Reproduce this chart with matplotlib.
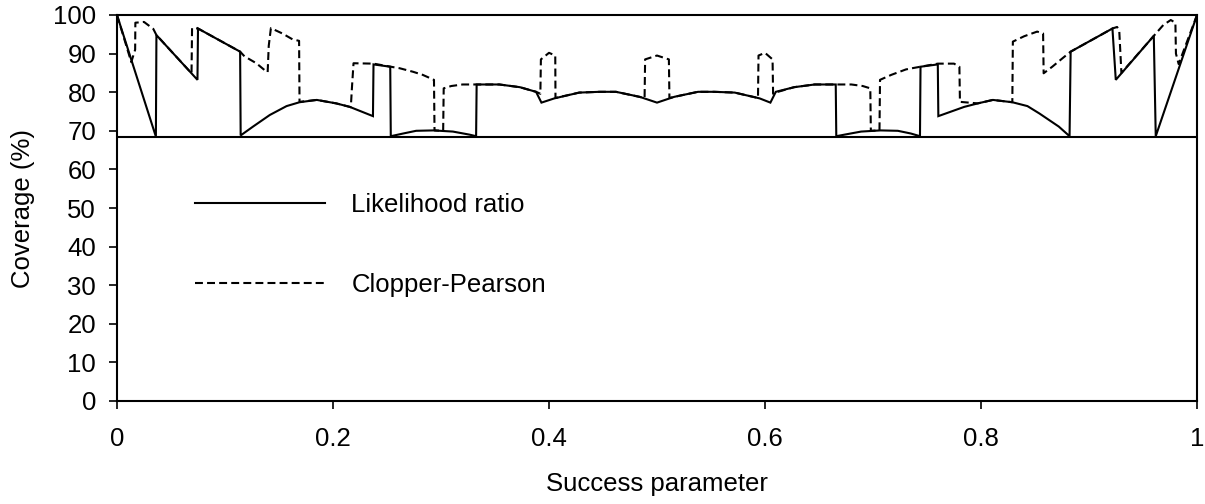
import matplotlib
matplotlib.use("Agg")
import matplotlib.pyplot as plt

plt.rcParams['font.family'] = ['Liberation Sans', 'DejaVu Sans']

# Likelihood ratio coverage (solid)
lr_x = [0.000, 0.036, 0.0365, 0.0745, 0.0750, 0.1140, 0.1145, 0.126, 0.1415, 0.157,
        0.169, 0.185, 0.203, 0.2155, 0.2370, 0.2375, 0.2530, 0.2535, 0.265, 0.277,
        0.293, 0.311, 0.3265, 0.3325, 0.3330, 0.354, 0.373, 0.388, 0.393, 0.405,
        0.428, 0.447, 0.462, 0.484, 0.500,
        0.516, 0.538, 0.553, 0.572, 0.595, 0.605, 0.610, 0.627, 0.646, 0.6655,
        0.6660, 0.6735, 0.689, 0.707, 0.723, 0.735, 0.7435, 0.7440, 0.7600, 0.7605,
        0.7845, 0.797, 0.811, 0.829, 0.843, 0.854, 0.872, 0.882, 0.8830, 0.9217,
        0.9248, 0.9600, 0.9618, 1.000]
lr_y = [100.0, 68.5, 94.8, 83.2, 96.5, 90.5, 68.8, 71.1, 74.1, 76.4,
        77.4, 78.0, 77.1, 76.2, 73.8, 87.2, 86.6, 68.6, 69.3, 70.0,
        70.1, 69.8, 69.0, 68.6, 82.0, 82.0, 81.3, 80.1, 77.3, 78.4,
        79.9, 80.1, 80.1, 78.8, 77.3,
        78.8, 80.1, 80.1, 79.9, 78.4, 77.3, 80.1, 81.3, 82.0, 82.0,
        68.6, 69.0, 69.8, 70.1, 70.0, 69.3, 68.6, 86.6, 87.2, 73.8,
        76.2, 77.1, 78.0, 77.4, 76.4, 74.5, 71.1, 68.6, 90.5, 96.5,
        83.2, 94.6, 68.6, 100.0]

# Clopper-Pearson coverage (dashed)
cp_x = [0.000, 0.0132, 0.0168, 0.0170, 0.025, 0.0336, 0.0365, 0.0690, 0.0695, 0.0750,
        0.1140, 0.118, 0.129, 0.1385, 0.1395, 0.1405, 0.1425, 0.1532, 0.1625, 0.1686,
        0.1690, 0.185, 0.203, 0.2155, 0.2165, 0.2175, 0.2190, 0.2375, 0.2535, 0.2618,
        0.274, 0.283, 0.2935, 0.2940, 0.302, 0.3025, 0.3095, 0.320, 0.333, 0.354,
        0.373, 0.388, 0.392, 0.3925, 0.400, 0.4058, 0.4060, 0.428, 0.447, 0.462,
        0.4885, 0.4890, 0.500, 0.5110, 0.5115,
        0.516, 0.538, 0.553, 0.572, 0.5935, 0.5940, 0.600, 0.6070, 0.6075, 0.612,
        0.627, 0.646, 0.6655, 0.680, 0.6905, 0.6975, 0.6980, 0.706, 0.7065, 0.717,
        0.7305, 0.736, 0.7440, 0.7600, 0.775, 0.7800, 0.7805, 0.797, 0.811, 0.8290,
        0.8295, 0.840, 0.852, 0.8575, 0.8580, 0.866, 0.8755, 0.8830, 0.9217, 0.926,
        0.9280, 0.9300, 0.9600, 0.9688, 0.9757, 0.9800, 0.9805, 0.983, 1.000]
cp_y = [100.0, 87.8, 91.0, 98.0, 98.2, 96.4, 94.8, 84.9, 96.6, 96.5,
        90.5, 89.3, 87.5, 85.3, 85.2, 92.0, 96.6, 95.2, 93.7, 93.3,
        77.5, 78.0, 77.1, 76.2, 76.1, 81.0, 87.5, 87.4, 86.6, 86.2,
        85.3, 84.5, 83.2, 70.1, 70.0, 81.0, 81.6, 82.0, 82.0, 82.0,
        81.3, 80.1, 79.6, 88.5, 90.2, 89.5, 78.5, 79.9, 80.1, 80.1,
        78.5, 88.5, 89.5, 88.5, 78.5,
        78.8, 80.1, 80.1, 79.9, 78.5, 89.5, 90.2, 88.5, 79.6, 80.1,
        81.3, 82.0, 82.0, 82.0, 81.6, 81.0, 70.0, 70.1, 83.2, 84.5,
        85.9, 86.2, 86.6, 87.4, 87.4, 86.6, 77.5, 77.1, 78.0, 77.4,
        93.1, 94.5, 95.7, 95.2, 84.9, 86.6, 88.8, 90.5, 96.5, 96.9,
        96.0, 85.0, 94.6, 97.4, 98.7, 98.0, 90.0, 87.3, 100.0]

nominal = 68.27
x_ticks = [0, 0.2, 0.4, 0.6, 0.8, 1]
x_ticklabels = ["0", "0.2", "0.4", "0.6", "0.8", "1"]
y_ticks = [0, 10, 20, 30, 40, 50, 60, 70, 80, 90, 100]

fig = plt.figure(figsize=(12.05, 5.04), dpi=100)
ax = fig.add_axes([117/1205, (504-401)/504, (1197-117)/1205, (401-15)/504])

ax.plot(lr_x, lr_y, color='black', lw=1.5, solid_joinstyle='miter', label='Likelihood ratio')
ax.plot(cp_x, cp_y, color='black', lw=1.5, linestyle=(0, (3.8, 2.0)), label='Clopper-Pearson')
ax.axhline(nominal, color='black', lw=1.5)

ax.set_xlim(0, 1)
ax.set_ylim(0, 100)
ax.set_xticks(x_ticks)
ax.set_xticklabels(x_ticklabels)
ax.set_yticks(y_ticks)
for s in ax.spines.values():
    s.set_linewidth(1.5)
    s.set_color('black')

fs = 18.5
ax.tick_params(axis='both', direction='out', length=6, width=1.2, labelsize=fs, colors='black')
ax.tick_params(axis='x', pad=13)
ax.tick_params(axis='y', pad=9)

ax.set_xlabel('Success parameter', fontsize=fs, labelpad=14.5)
ax.set_ylabel('Coverage (%)', fontsize=fs, labelpad=13)

leg = ax.legend(loc='upper left', bbox_to_anchor=(0.072, 0.540), frameon=False,
                fontsize=fs, handlelength=5.05, handletextpad=1.05, labelspacing=2.18,
                borderpad=0, borderaxespad=0)

fig.savefig('out.png', dpi=100)
